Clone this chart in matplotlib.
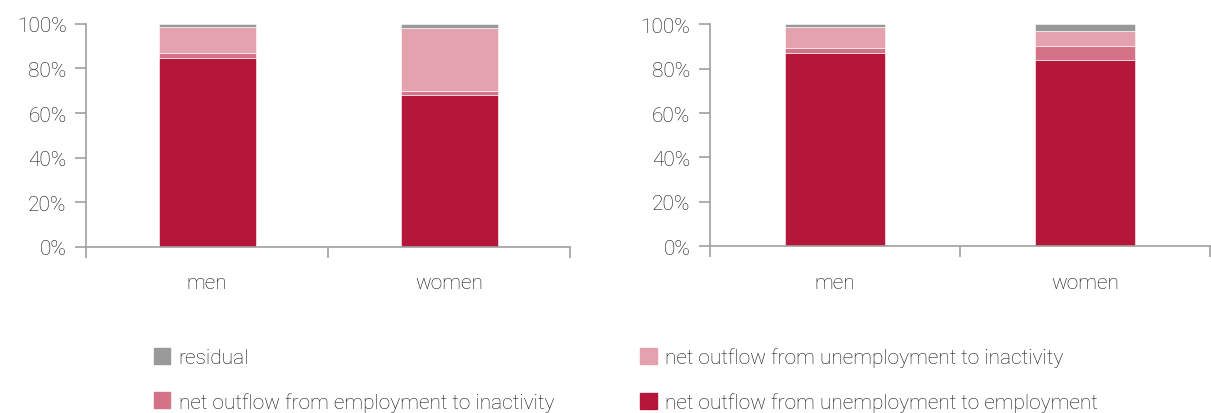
import matplotlib
matplotlib.use("Agg")
import matplotlib.pyplot as plt
from matplotlib.patches import Patch

plt.rcParams['font.family'] = ['Roboto', 'DejaVu Sans']
plt.rcParams['font.weight'] = 'light'

categories = ['men', 'women']
series_names = ['net outflow from unemployment to employment',
                'net outflow from employment to inactivity',
                'net outflow from unemployment to inactivity',
                'residual']
colors = ['#B5173A', '#D47388', '#E4A2AF', '#999999']

# left panel (shares, %)
left_u_to_e = [84.9, 68.2]
left_e_to_i = [2.2, 1.6]
left_u_to_i = [11.6, 28.3]
left_resid = [1.3, 1.9]

# right panel (shares, %)
right_u_to_e = [87.1, 83.9]
right_e_to_i = [2.2, 6.3]
right_u_to_i = [9.5, 6.6]
right_resid = [1.2, 3.2]

yticks = [0, 20, 40, 60, 80, 100]
ytick_labels = ['0%', '20%', '40%', '60%', '80%', '100%']

fig = plt.figure(figsize=(12.11, 4.14), dpi=100)
ax1 = fig.add_axes([0.071, 0.401, 0.400, 0.539])
ax2 = fig.add_axes([0.586, 0.403, 0.413, 0.536])

spine_col = '#A0A0A0'
text_col = '#111111'

def draw(ax, parts):
    x = range(len(categories))
    bottom = [0.0] * len(categories)
    for vals, col in zip(parts, colors):
        ax.bar(x, vals, width=0.4, bottom=bottom, color=col,
               edgecolor='white', linewidth=0.4)
        bottom = [b + v for b, v in zip(bottom, vals)]
    ax.set_xlim(-0.5, 1.5)
    ax.set_ylim(0, 100)
    ax.set_yticks(yticks)
    ax.set_yticklabels(ytick_labels)
    ax.set_xticks([0, 1])
    ax.set_xticklabels(categories)
    ax.set_xticks([-0.5, 0.5, 1.5], minor=True)
    ax.tick_params(axis='x', which='major', length=0, pad=19, labelsize=15, colors=text_col)
    ax.tick_params(axis='x', which='minor', length=8, width=1.2, color=spine_col, direction='out')
    ax.tick_params(axis='y', length=8, width=1.2, color=spine_col, labelsize=15,
                   labelcolor=text_col, pad=6)
    for s in ['top', 'right']:
        ax.spines[s].set_visible(False)
    for s in ['left', 'bottom']:
        ax.spines[s].set_color(spine_col)
        ax.spines[s].set_linewidth(1.2)

draw(ax1, [left_u_to_e, left_e_to_i, left_u_to_i, left_resid])
draw(ax2, [right_u_to_e, right_e_to_i, right_u_to_i, right_resid])

handles = [Patch(color=c) for c in colors]
leg_kw = dict(frameon=False, fontsize=15, handlelength=0.8, handleheight=0.8,
              handletextpad=0.4, labelspacing=1.2, borderaxespad=0, labelcolor=text_col)
fig.legend([handles[3], handles[1]], [series_names[3], series_names[1]],
           loc='upper left', bbox_to_anchor=(0.12, 0.178), **leg_kw)
fig.legend([handles[2], handles[0]], [series_names[2], series_names[0]],
           loc='upper left', bbox_to_anchor=(0.522, 0.178), **leg_kw)

fig.savefig('out.png', dpi=100)
